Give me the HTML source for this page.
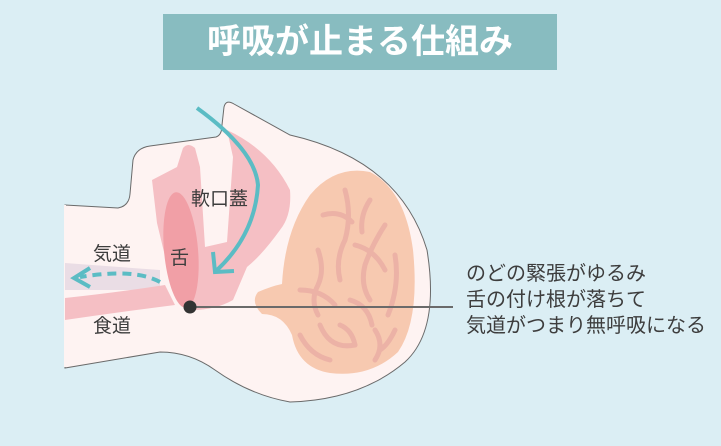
<!DOCTYPE html>
<html><head><meta charset="utf-8"><style>
html,body{margin:0;padding:0;background:#dbeef4;}
body{width:721px;height:446px;position:relative;overflow:hidden;font-family:"Liberation Sans","Noto Sans CJK JP",sans-serif;}
.title{position:absolute;left:163px;top:14px;width:394px;height:56px;background:#88bcc0;color:#fff;font-size:34px;font-weight:bold;line-height:56px;text-align:center;letter-spacing:0px;}
.t{position:absolute;color:#3d3d3d;font-size:19px;white-space:nowrap;}
</style></head><body>
<div class="title">呼吸が止まる仕組み</div>
<svg width="721" height="446" style="position:absolute;left:0;top:0">
<path d="M65,205 L118,208 Q129,206 130,194 L133,160 Q136,148 150,146 L216,137 Q222,135 222,125 L224,107 Q226,99 234,104 L290,135 Q400,160 427,250 Q440,330 405,362 Q360,400 290,402 Q250,395 215,370 Q190,352 160,352 L65,368 Z" fill="#fef3f2" stroke="#6a6a6a" stroke-width="1"/>
<path d="M65,367 L65,205" stroke="#fef3f2" stroke-width="2"/>
<path d="M258,292 Q272,286 282,284 Q285,230 310,195 Q335,165 370,172 Q405,190 413,250 Q420,320 398,352 Q370,378 330,373 Q298,368 292,335 Q283,314 262,314 Q250,302 258,292 Z" fill="#f7c9b0"/>
<g fill="none" stroke="#ecb2a6" stroke-width="5" stroke-linecap="round">
<path d="M345,190 Q352,215 345,240 Q335,260 340,280"/>
<path d="M323,215 Q340,210 352,222"/>
<path d="M370,200 Q360,215 362,232"/>
<path d="M385,225 Q372,245 365,265 Q360,285 370,300"/>
<path d="M355,245 Q375,250 385,270"/>
<path d="M318,250 Q325,270 318,285 Q310,300 318,315"/>
<path d="M300,290 Q322,290 335,305"/>
<path d="M395,255 Q400,285 388,315"/>
<path d="M350,300 Q368,305 372,325"/>
<path d="M320,325 Q330,350 355,345"/>
<path d="M375,330 Q385,345 375,360"/>
<path d="M340,325 Q352,330 355,345"/>
<path d="M300,335 Q310,355 330,360"/>
<path d="M395,330 Q388,345 380,350"/>
</g>
<path d="M152,180 L177,167 L183,148 Q188,142 195,148 L200,167 L205,247 L227,242 L233,157 L227,130 Q270,150 290,190 Q292,215 280,230 Q262,255 247,267 L233,300 Q215,310 193,310 L170,277 L157,223 Z" fill="#f5bfc4"/>
<path d="M65,263 L160,270 L160,290 L65,290 Z" fill="#eadde5"/>
<path d="M65,298 Q120,292 165,285 L175,305 Q120,312 65,320 Z" fill="#f5bfc4"/>
<ellipse cx="181" cy="250" rx="17" ry="58" transform="rotate(-5 181 250)" fill="#f19fa6"/>
<path d="M197,108 Q255,150 258,185 Q255,235 216,271" fill="none" stroke="#5bbcc4" stroke-width="4"/>
<path d="M213,252 L215,272 L234,271" fill="none" stroke="#5bbcc4" stroke-width="4"/>
<path d="M160,282 Q135,268 80,277" fill="none" stroke="#5bbcc4" stroke-width="4" stroke-dasharray="9,6"/>
<path d="M90,268 L74,278 L90,287" fill="none" stroke="#5bbcc4" stroke-width="4"/>
<line x1="190" y1="307" x2="453" y2="307" stroke="#6a6a6a" stroke-width="2"/>
<circle cx="190" cy="307" r="6.5" fill="#333"/>
</svg>
<div class="t" style="left:191px;top:184px">軟口蓋</div>
<div class="t" style="left:170px;top:243px">舌</div>
<div class="t" style="left:93px;top:239px">気道</div>
<div class="t" style="left:93px;top:311px">食道</div>
<div class="t" style="left:466px;top:261px;line-height:26px;font-size:20px">のどの緊張がゆるみ<br>舌の付け根が落ちて<br>気道がつまり無呼吸になる</div>
</body></html>
